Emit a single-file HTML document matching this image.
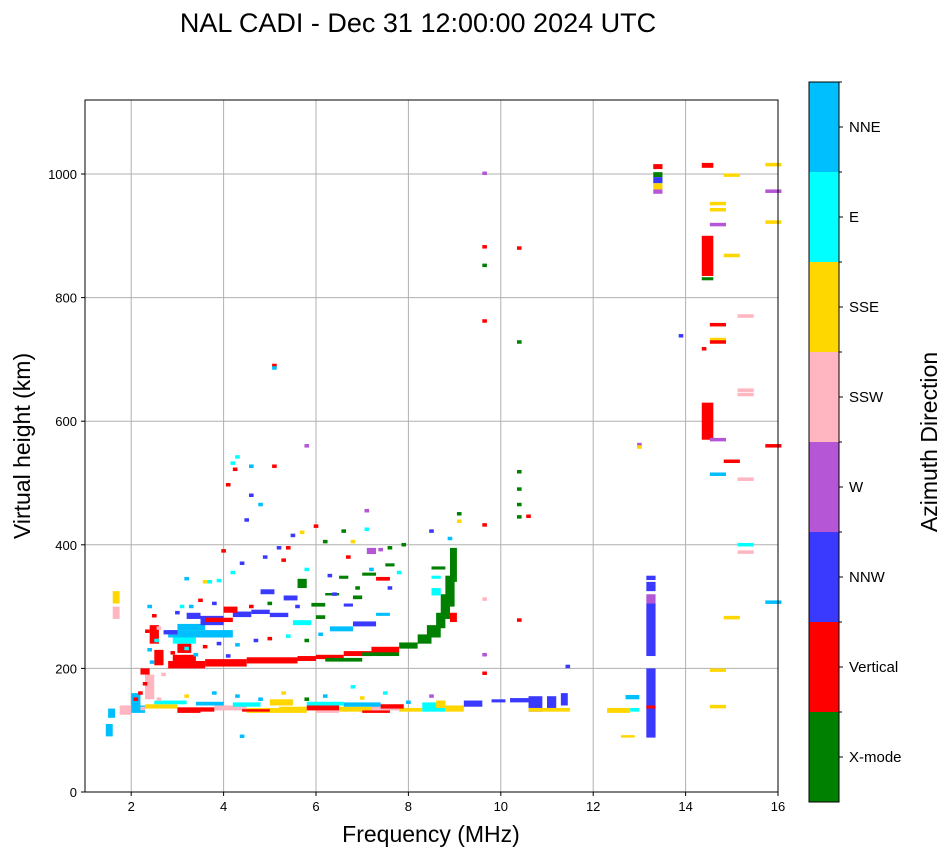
<!DOCTYPE html>
<html><head><meta charset="utf-8"><style>
body{margin:0;background:#fff;font-family:"Liberation Sans","DejaVu Sans",sans-serif}
</style></head><body>
<svg id="chart" width="951" height="856" xmlns="http://www.w3.org/2000/svg" font-family="Liberation Sans, DejaVu Sans, sans-serif">
<text x="418" y="32" font-size="27" text-anchor="middle">NAL CADI - Dec 31 12:00:00 2024 UTC</text>
<g id="grid"></g>
<g id="marks"></g>
<rect x="85" y="100" width="693" height="692" fill="none" stroke="#000" stroke-width="1"/>
<g id="ticks"></g>
<text x="431" y="842" font-size="23" text-anchor="middle">Frequency (MHz)</text>
<text transform="translate(30,446) rotate(-90)" font-size="23" text-anchor="middle">Virtual height (km)</text>
<g id="colorbar"></g>
<text transform="translate(937,442) rotate(-90)" font-size="23" text-anchor="middle">Azimuth Direction</text>
</svg>
<script>
const xTicks=[2,4,6,8,10,12,14,16];
const yTicks=[0,200,400,600,800,1000];
const dirLabels=["X-mode","Vertical","NNW","W","SSW","SSE","E","NNE"];
const dirColors=["#008000","#ff0000","#3a3aff","#b456d6","#ffb6c1","#ffd700","#00ffff","#00bfff"];
// blocks: [f1,f2,h1,h2,colorIdx]
const blocks=[
[2.8,3.6,200,212,1],[3.6,4.5,203,215,1],[4.5,5.6,208,218,1],[5.6,6.0,212,220,1],[2.9,3.4,212,222,1],[3.0,3.3,225,240,1],[2.5,2.7,205,230,1],[2.4,2.6,240,270,1],
[6.0,6.6,215,222,1],[6.6,7.2,220,228,1],[7.2,7.8,225,235,1],[6.2,7.0,211,217,0],[7.0,7.8,220,226,0],[7.8,8.2,232,242,0],[8.2,8.5,240,255,0],[8.4,8.7,250,270,0],[8.6,8.8,265,290,0],[8.7,8.9,280,320,0],[8.8,9.0,300,350,0],[8.9,9.05,340,395,0],[8.5,8.7,318,330,6],[8.5,8.7,345,350,6],[8.9,9.05,275,290,1],[8.5,8.8,360,365,0],
[2.8,4.2,250,262,7],[3.0,3.6,262,272,7],[2.9,3.4,240,250,6],[3.5,4.0,270,285,2],[4.2,4.6,283,292,2],[3.6,4.2,275,282,1],[3.2,3.5,280,290,2],[2.7,3.0,255,262,2],[4.0,4.3,290,300,1],[4.6,5.0,288,295,2],[5.0,5.4,283,290,2],[5.5,5.9,270,278,6],[6.3,6.8,260,268,7],[6.8,7.3,268,276,2],[7.3,7.6,285,290,7],
[5.6,5.8,330,345,0],[5.9,6.2,300,306,0],[6.2,6.5,318,322,0],[6.5,6.7,345,350,0],[6.8,7.0,312,318,0],[7.0,7.3,350,355,0],[7.3,7.6,342,348,1],[7.5,7.7,365,370,0],[4.8,5.1,320,328,2],[5.3,5.6,310,318,2],[6.0,6.2,280,286,0],[6.6,6.8,300,305,2],[7.1,7.3,385,395,3],
[1.9,2.3,128,140,7],[2.3,3.0,135,142,5],[3.0,3.8,130,137,1],[3.8,4.5,132,140,4],[4.5,5.2,128,136,5],[5.2,5.8,128,138,5],[5.8,6.5,132,140,1],[6.5,7.2,130,138,5],[7.2,7.8,132,140,4],[7.8,8.3,130,136,5],[8.3,8.8,130,145,6],[8.8,9.2,130,140,5],[8.6,8.8,136,148,5],[9.2,9.6,138,148,2],
[2.5,3.2,142,148,6],[3.4,4.0,140,146,7],[4.2,4.8,138,145,6],[5.0,5.5,140,150,5],[5.8,6.6,140,146,6],[6.6,7.4,138,145,7],[7.4,7.9,135,142,1],[3.0,3.5,128,132,1],[4.4,5.0,130,134,1],[6.0,6.5,128,132,4],[7.0,7.6,128,132,1],[2.3,2.5,150,190,4],[2.2,2.4,190,200,1],
[10.2,10.6,145,152,2],[10.6,10.9,130,155,2],[11.0,11.2,135,155,2],[10.6,11.5,130,136,5],[11.3,11.45,140,160,2],[12.3,12.8,128,136,5],[12.7,13.0,150,157,7],[12.6,12.9,88,92,5],[12.8,13.0,130,136,6],[9.8,10.1,145,150,2],
[13.15,13.35,88,200,2],[13.15,13.35,135,140,1],[13.15,13.35,220,305,2],[13.15,13.35,305,320,3],[13.15,13.35,325,340,2],[13.15,13.35,343,350,2],
[13.3,13.5,1008,1016,1],[13.3,13.5,985,995,2],[13.3,13.5,975,985,5],[13.3,13.5,968,975,3],[13.3,13.5,995,1003,0],[14.35,14.6,1010,1018,1],[14.35,14.6,835,900,1],[14.35,14.6,828,833,0],[14.35,14.6,570,630,1],
[1.45,1.6,90,110,7],[1.6,1.75,280,300,4],[1.6,1.75,305,325,5],[1.5,1.65,120,135,7],[1.75,2.0,125,140,4],[2.0,2.2,140,160,7]
];
// cells: [freq,height,colorIdx]
const cells=[
[9.65,1001,3],[9.65,882,1],[9.65,852,0],[9.65,762,1],[10.4,880,1],[10.4,728,0],[5.1,690,1],[5.1,686,7],[5.8,560,3],[4.2,532,6],[4.25,522,1],[4.1,497,1],[4.6,527,7],[5.1,527,1],[4.3,542,6],[10.4,518,0],[10.4,490,0],[10.4,465,0],[10.4,445,0],[10.6,446,1],[9.65,432,1],[9.65,312,4],[9.65,222,3],[10.4,278,1],[9.65,192,1],[9.1,450,0],[9.1,438,5],[8.9,410,7],[8.5,422,2],[7.9,400,0],[7.6,395,0],[7.1,455,3],[7.4,392,3],[7.1,425,6],[6.8,405,5],[6.6,422,0],[6.2,405,0],[6.0,430,1],[5.7,420,5],[5.5,415,2],[5.4,395,1],[5.2,395,2],[4.6,480,2],[4.8,465,7],[4.5,440,2],[4.0,390,1],[3.7,340,6],[3.9,342,6],[3.2,345,7],[4.2,355,6],[3.6,340,5],[13.0,562,3],[13.0,558,5],[13.9,738,2],[14.4,717,1],[14.7,756,1],[14.7,732,5],[14.7,728,1],[14.7,570,3],[14.7,514,7],[15.0,535,1],[15.3,770,4],[15.3,650,4],[15.3,643,4],[15.3,506,4],[15.3,400,6],[15.3,388,4],[15.9,560,1],[15.9,307,7],[15.0,282,5],[14.7,197,5],[14.7,138,5],[15.0,868,5],[15.0,998,5],[14.7,952,5],[14.7,942,5],[14.7,918,3],[15.9,1015,5],[15.9,972,3],[15.9,922,5],[11.45,203,2],[4.4,90,7],[2.4,300,7],[2.5,285,1],[3.1,300,6],[3.5,310,1],[4.4,370,2],[4.9,380,2],[5.3,375,1],[5.8,360,6],[6.3,350,2],[6.7,380,1],[2.3,175,1],[2.2,160,1],[2.6,150,4],[6.8,170,6],[7.5,160,6],[3.8,160,7],[4.3,155,7],[5.3,160,5],[5.8,150,0],
[2.4,230,7],[2.55,245,6],[2.9,225,1],[3.2,232,6],[3.6,235,1],[3.9,240,2],[4.3,238,7],[4.7,245,2],[5.0,248,1],[5.4,252,6],[5.8,245,0],[6.1,255,7],[3.0,290,2],[3.3,300,7],[3.8,305,2],[4.6,300,1],[5.0,305,0],[5.6,300,2],[6.4,320,2],[6.9,330,0],[7.6,330,2],[7.2,360,7],[7.8,355,6],[2.6,265,4],[3.4,222,7],[4.1,220,2],[2.45,210,7],[2.35,260,1],[2.7,190,4],[2.1,150,1],[2.25,135,4],[3.2,155,5],[4.8,150,7],[6.2,155,7],[7.0,152,5],[8.0,145,7],[8.5,155,3]
];
const NS="http://www.w3.org/2000/svg";
const X=f=>85+(f-1)*46.2, Y=h=>792-h*0.618;
function mk(tag,attrs,parent){const e=document.createElementNS(NS,tag);for(const k in attrs)e.setAttribute(k,attrs[k]);parent.appendChild(e);return e;}
const grid=document.getElementById('grid'),ticks=document.getElementById('ticks'),marks=document.getElementById('marks'),cb=document.getElementById('colorbar');
xTicks.forEach(t=>{const l=mk('line',{x1:X(t),x2:X(t),y1:100,y2:792,stroke:'#b0b0b0','stroke-width':1},grid);
 mk('line',{x1:X(t),x2:X(t),y1:792,y2:796,stroke:'#000'},ticks);
 const tx=mk('text',{x:X(t),y:811,'font-size':13,'text-anchor':'middle'},ticks);tx.textContent=t;});
yTicks.forEach(t=>{if(t>0){const l=mk('line',{x1:85,x2:778,y1:Y(t),y2:Y(t),stroke:'#b0b0b0','stroke-width':1},grid);}
 mk('line',{x1:81,x2:85,y1:Y(t),y2:Y(t),stroke:'#000'},ticks);
 const tx=mk('text',{x:77,y:Y(t)+5,'font-size':13,'text-anchor':'end'},ticks);tx.textContent=t;});
blocks.forEach(b=>{const r=mk('rect',{x:X(b[0]),y:Y(b[3]),width:X(b[1])-X(b[0]),height:Y(b[2])-Y(b[3]),fill:dirColors[b[4]]},marks);
 
 });
cells.forEach(c=>{const w=c[0]>=14.5?0.35:0.1;const r=mk('rect',{x:X(c[0]-w/2),y:Y(c[1]+3),width:w*46.2,height:3.5,fill:dirColors[c[2]]},marks);
 
 });
const segH=90;
dirLabels.forEach((lab,i)=>{const y0=802-(i+1)*segH;
 const r=mk('rect',{x:809,y:y0,width:30,height:segH,fill:dirColors[i]},cb);
 
 
 mk('line',{x1:839,x2:843,y1:y0+segH/2,y2:y0+segH/2,stroke:'#000'},cb);
 mk('line',{x1:839,x2:842,y1:y0,y2:y0,stroke:'#000'},cb);
 const t=mk('text',{x:849,y:y0+segH/2+5,'font-size':15},cb);t.textContent=lab;
 
 });
mk('rect',{x:809,y:82,width:30,height:720,fill:'none',stroke:'#000','stroke-width':1},cb);
</script>
</body></html>
